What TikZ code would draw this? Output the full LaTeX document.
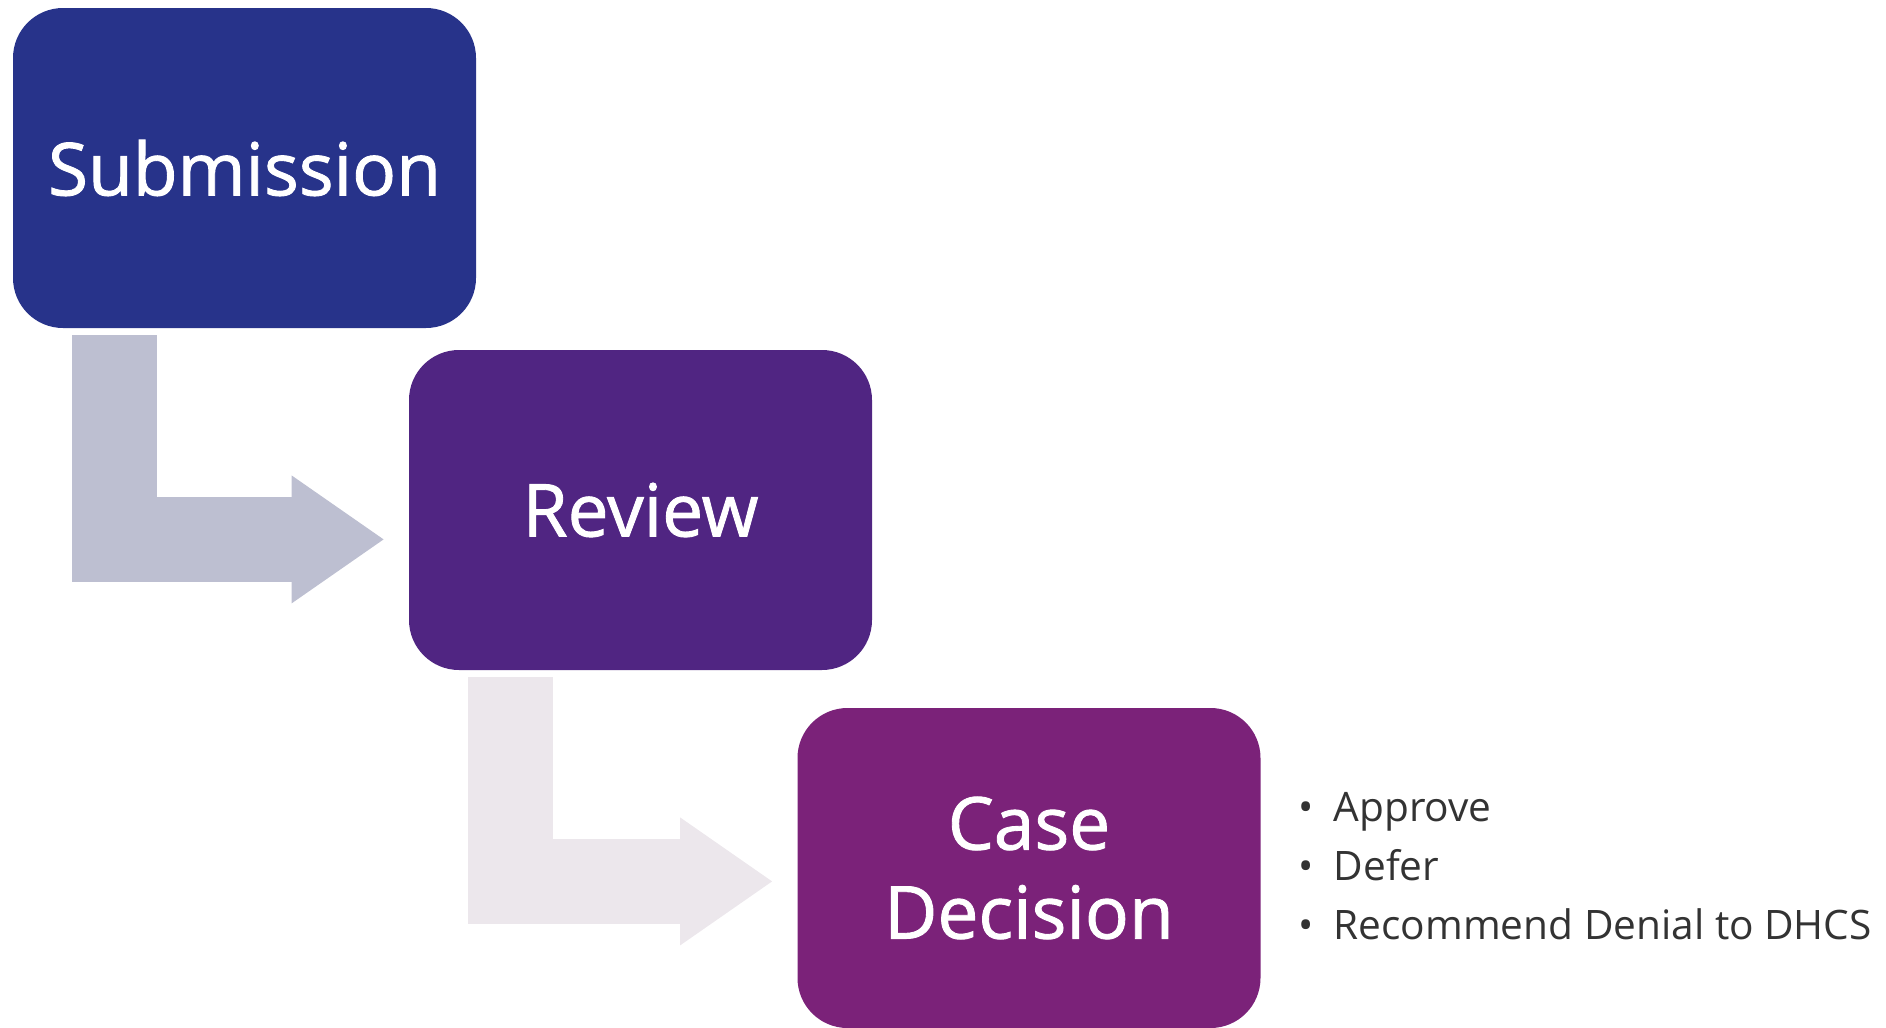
\documentclass[tikz,border=0pt]{standalone}
\usepackage{fontspec}
\setmainfont{Open Sans}
\newfontfamily\stagefont{Open Sans}[FakeBold=1.2]
\usetikzlibrary{arrows.meta,calc}
\definecolor{subblue}{HTML}{27338A}
\definecolor{revpurple}{HTML}{502582}
\definecolor{casepurple}{HTML}{7B2279}
\definecolor{flowA}{HTML}{BDBFD1}
\definecolor{flowB}{HTML}{ECE7EC}
\definecolor{notegray}{HTML}{333333}

\begin{document}
\begin{tikzpicture}[x=0.5pt,y=-0.5pt, stage/.style={rectangle,rounded corners=25pt,minimum width=231.5pt,minimum height=160pt,inner sep=0pt,text=white,align=center,font=\stagefont\fontsize{36.5}{44.5}\selectfont}, flow/.style={line width=42.5pt,-{Triangle[length=46pt,width=64pt,line width=0pt]}}]
  \useasboundingbox (0,0) rectangle (1886,1028);
  \node[stage,fill=subblue] (sub) at (244.5,168) {Submission};
  \node[stage,fill=revpurple] (rev) at (640.5,510) {Review};
  \node[stage,fill=casepurple] (case) at (1029,868) {Case\\Decision};
  \node[anchor=west,align=left,inner sep=0pt,text=notegray,font=\fontsize{20.3}{29.5}\selectfont] (opts) at (1298,866) {\textbullet\hspace{10pt}Approve\\ \textbullet\hspace{10pt}Defer\\ \textbullet\hspace{10pt}Recommend Denial to DHCS};
  \foreach \from/\to/\col in {sub/rev/flowA,rev/case/flowB}{
    \coordinate (\from-top) at ($(\from.south west)+(102,7)$);
    \coordinate (\from-bend) at ($(\from.south west)+(0,211)$);
    \coordinate (\from-tip) at ($(\to.west)+(-25,0)$);
    \draw[flow,\col] (\from-top) |- (\from-tip |- \from-bend);
  }
\end{tikzpicture}
\end{document}
